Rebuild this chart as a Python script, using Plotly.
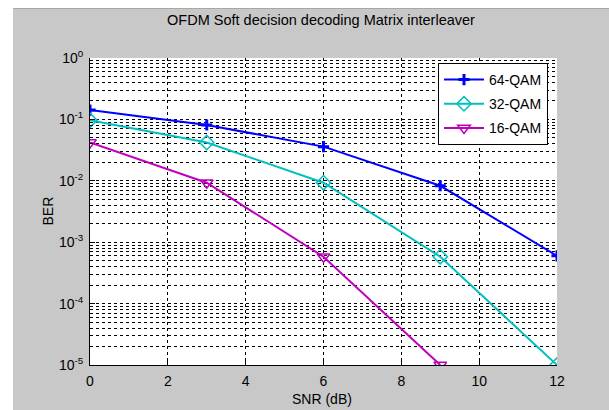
import plotly.graph_objects as go

snr = [0, 3, 6, 9, 12]
ber_64qam = [0.142, 0.081, 0.036, 0.0083, 0.0006]
ber_32qam = [0.097, 0.042, 0.0093, 0.00058, 0.00001]
snr_16 = [0, 3, 6, 9]
ber_16qam = [0.042, 0.0093, 0.00058, 0.00001]

x_ticks = [0, 2, 4, 6, 8, 10, 12]
y_ticks = [1e-5, 1e-4, 1e-3, 1e-2, 1e-1, 1e0]
y_ticktext = ["10<sup>-5</sup>", "10<sup>-4</sup>", "10<sup>-3</sup>",
              "10<sup>-2</sup>", "10<sup>-1</sup>", "10<sup>0</sup>"]

FONT = "Liberation Sans, Arial, sans-serif"
W, H = 609, 410
L, R, T, B = 90, 557, 58, 365
pw, ph = R - L, B - T
DASH = "3px,3px"

fig = go.Figure()
fig.add_trace(go.Scatter(x=snr, y=ber_64qam, name="64-QAM", mode="lines+markers",
                         legendgroup="a",
                         line=dict(color="#0000ff", width=2),
                         marker=dict(symbol="cross-thin-open", size=8,
                                     line=dict(color="#0000ff", width=3))))
fig.add_trace(go.Scatter(x=snr, y=ber_32qam, name="32-QAM", mode="lines+markers",
                         legendgroup="b",
                         line=dict(color="#00bfbf", width=2),
                         marker=dict(symbol="diamond-open", size=11,
                                     line=dict(color="#00bfbf", width=1.5))))
fig.add_trace(go.Scatter(x=snr_16, y=ber_16qam, name="16-QAM", mode="lines+markers",
                         legendgroup="c",
                         line=dict(color="#bf00bf", width=2),
                         marker=dict(symbol="triangle-down-open", size=11,
                                     line=dict(color="#bf00bf", width=1.5))))


def px_x(v):
    return (v - L) / pw


def px_y(v):
    return (B - v) / ph


shapes = [
    dict(type="rect", xref="paper", yref="paper", x0=px_x(-5), x1=px_x(13),
         y0=px_y(H + 5), y1=px_y(-5), fillcolor="white", line=dict(width=0), layer="below"),
    dict(type="rect", xref="paper", yref="paper", x0=px_x(-5), x1=px_x(W + 5),
         y0=px_y(8), y1=px_y(-5), fillcolor="white", line=dict(width=0), layer="below"),
    dict(type="line", xref="paper", yref="paper", x0=px_x(13), x1=px_x(W + 5),
         y0=px_y(8.5), y1=px_y(8.5), line=dict(color="#a9a99a", width=1), layer="below"),
]

annotations = [
    dict(text="BER", xref="paper", yref="paper", x=px_x(47), y=0.5, textangle=-90,
         showarrow=False, xanchor="center", yanchor="middle",
         font=dict(family=FONT, size=14, color="black")),
    dict(text="SNR (dB)", xref="paper", yref="paper", x=px_x(322), y=px_y(399),
         showarrow=False, xanchor="center", yanchor="middle",
         font=dict(family=FONT, size=14, color="black")),
]

fig.update_layout(
    width=W, height=H,
    margin=dict(l=L, r=W - R, t=T, b=H - B),
    paper_bgcolor="#c8c8c8", plot_bgcolor="white",
    font=dict(family=FONT, size=14, color="black"),
    title=dict(text="OFDM Soft decision decoding Matrix interleaver", x=px_x(321),
               xref="paper", xanchor="center", y=1 - 20 / H, yref="container",
               yanchor="middle", font=dict(family=FONT, size=14.5, color="black")),
    shapes=shapes,
    annotations=annotations,
    showlegend=True,
    legend=dict(x=px_x(438), y=px_y(63), xanchor="left", yanchor="top",
                bgcolor="white", bordercolor="black", borderwidth=1,
                font=dict(family=FONT, size=14, color="black"),
                itemwidth=40, tracegroupgap=3),
)

fig.update_xaxes(range=[0, 12], tickvals=x_ticks, ticks="inside", ticklen=5,
                 tickcolor="black", showline=True, linecolor="black", linewidth=1,
                 mirror=False, zeroline=False, showgrid=True, gridcolor="black",
                 griddash=DASH, gridwidth=1, ticklabelstandoff=3,
                 tickfont=dict(family=FONT, size=14))
fig.update_yaxes(type="log", range=[-5, 0], tickvals=y_ticks, ticktext=y_ticktext,
                 ticks="inside", ticklen=5, tickcolor="black", showline=True,
                 linecolor="black", linewidth=1, mirror=False, zeroline=False,
                 showgrid=True, gridcolor="black", griddash=DASH, gridwidth=1,
                 ticklabelstandoff=3,
                 minor=dict(dtick="D1", showgrid=True, gridcolor="black", griddash=DASH,
                            gridwidth=1, ticks="inside", ticklen=3, tickcolor="black"),
                 tickfont=dict(family=FONT, size=14))

fig.write_html("out.html")
